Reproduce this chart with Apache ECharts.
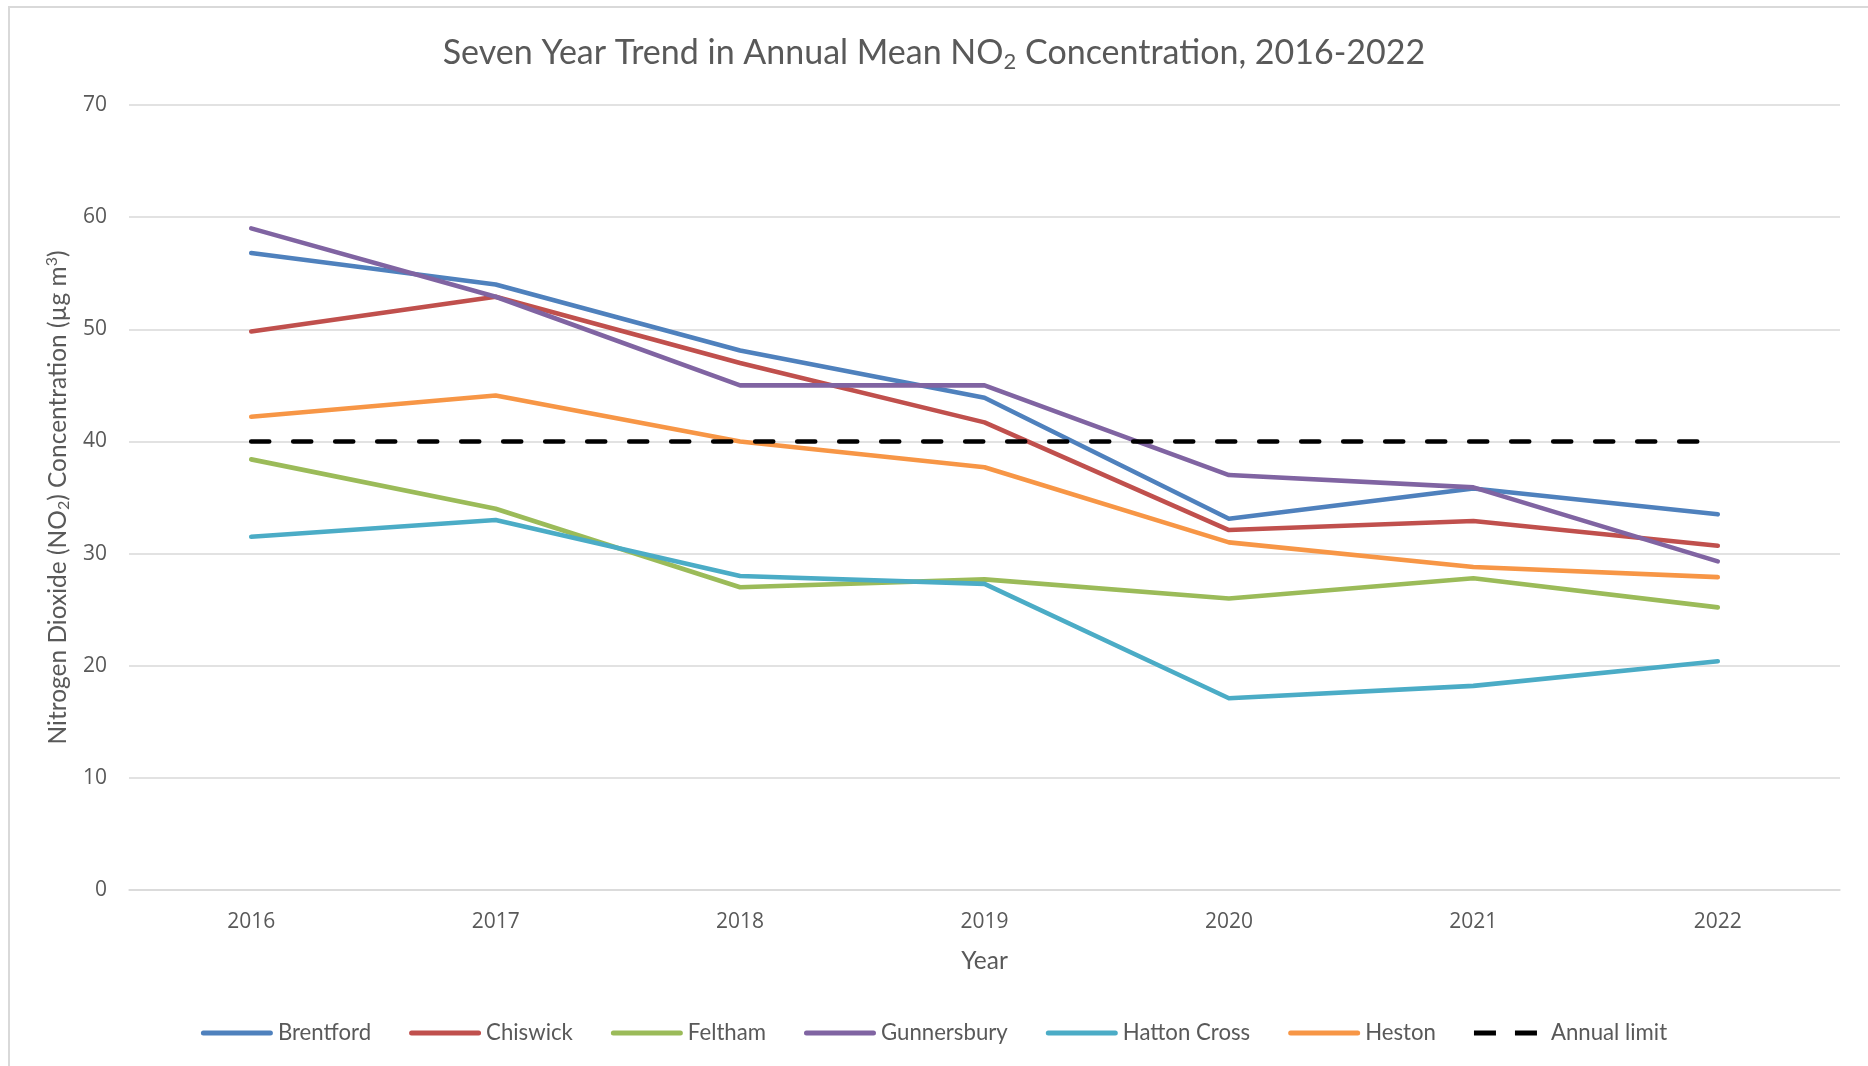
<!DOCTYPE html>
<html>
<head>
<meta charset="utf-8">
<script src="https://cdn.jsdelivr.net/npm/echarts@6/dist/echarts.min.js"></script>
<style>
html,body{margin:0;padding:0;background:#fff;}
#chart{width:1868px;height:1066px;}
</style>
</head>
<body>
<div id="chart"></div>
<script>
const years = ['2016','2017','2018','2019','2020','2021','2022'];
const brentford   = [56.8, 54.0, 48.1, 43.9, 33.1, 35.8, 33.5];
const chiswick    = [49.8, 52.9, 47.0, 41.7, 32.1, 32.9, 30.7];
const feltham     = [38.4, 34.0, 27.0, 27.7, 26.0, 27.8, 25.2];
const gunnersbury = [59.0, 52.9, 45.0, 45.0, 37.0, 35.9, 29.3];
const hattonCross = [31.5, 33.0, 28.0, 27.3, 17.1, 18.2, 20.4];
const heston      = [42.2, 44.1, 40.0, 37.7, 31.0, 28.8, 27.9];
const annualLimit = [40, 40, 40, 40, 40, 40, 40];
const yTicks = [0, 10, 20, 30, 40, 50, 60, 70];

const labelFont = 'Lato, "Liberation Sans", sans-serif';
const tickFont = '"Open Sans", "Noto Sans", sans-serif';
const grey = '#595959';

function lineSeries(name, data, color, dashed) {
  return {
    name: name, type: 'line', data: data, symbol: 'none', showSymbol: false, smooth: false,
    lineStyle: dashed
      ? { color: color, width: 4.6, type: [18, 24], cap: 'round' }
      : { color: color, width: 4.6, cap: 'round', join: 'round' },
    itemStyle: { color: color },
    emphasis: { disabled: true },
    z: 2
  };
}

const solidIcon = 'path://M2.5,0H69.5A2.5,2.5,0,0,1,69.5,5H2.5A2.5,2.5,0,0,1,2.5,0Z';
const dashIcon = 'path://M0,0H22V5H0Z M41,0H63V5H41Z M71.9,2.4H72V2.6H71.9Z';

const chart = echarts.init(document.getElementById('chart'), null, { renderer: 'canvas' });
chart.setOption({
  animation: false,
  backgroundColor: '#fff',
  graphic: [{
    type: 'rect', z: -10, silent: true,
    shape: { x: 9, y: 7, width: 1900, height: 1100 },
    style: { fill: 'none', stroke: '#d9d9d9', lineWidth: 2 }
  }],
  title: {
    text: 'Seven Year Trend in Annual Mean NO{sub|2} Concentration, 2016-2022',
    left: 'center', top: 28,
    textStyle: {
      fontFamily: labelFont, fontSize: 34, fontWeight: 'normal', color: grey, lineHeight: 40,
      rich: { sub: { fontFamily: labelFont, fontSize: 22, color: grey, lineHeight: 20, verticalAlign: 'bottom' } }
    }
  },
  grid: { left: 129, right: 28, top: 105, bottom: 176, containLabel: false },
  legend: {
    bottom: 17, left: 'center',
    itemWidth: 72, itemHeight: 5, itemGap: 38,
    textStyle: { fontFamily: labelFont, fontSize: 22.2, color: grey },
    data: [
      { name: 'Brentford', icon: solidIcon },
      { name: 'Chiswick', icon: solidIcon },
      { name: 'Feltham', icon: solidIcon },
      { name: 'Gunnersbury', icon: solidIcon },
      { name: 'Hatton Cross', icon: solidIcon },
      { name: 'Heston', icon: solidIcon },
      { name: 'Annual limit', icon: dashIcon }
    ]
  },
  xAxis: {
    type: 'category', data: years, boundaryGap: true,
    name: 'Year', nameLocation: 'middle', nameGap: 59,
    nameTextStyle: { fontFamily: labelFont, fontSize: 24.5, color: grey },
    axisLine: { show: true, lineStyle: { color: '#d9d9d9', width: 1.5 } },
    axisTick: { show: false },
    axisLabel: { fontFamily: tickFont, fontSize: 21, color: grey, margin: 22 },
    splitLine: { show: false }
  },
  yAxis: {
    type: 'value', min: yTicks[0], max: yTicks[yTicks.length - 1], interval: 10,
    name: 'Nitrogen Dioxide (NO{sub|2}) Concentration (µg m{sup|3})',
    nameLocation: 'middle', nameGap: 56, nameRotate: 90,
    nameTextStyle: {
      fontFamily: labelFont, fontSize: 24.5, color: grey, lineHeight: 28,
      rich: {
        sub: { fontFamily: labelFont, fontSize: 16, color: grey, lineHeight: 15, verticalAlign: 'bottom' },
        sup: { fontFamily: labelFont, fontSize: 16, color: grey, lineHeight: 15, verticalAlign: 'top' }
      }
    },
    axisLine: { show: false },
    axisTick: { show: false },
    axisLabel: { fontFamily: tickFont, fontSize: 21, color: grey, margin: 22 },
    splitLine: { show: true, lineStyle: { color: '#d9d9d9', width: 1.5 } }
  },
  series: [
    lineSeries('Brentford', brentford, '#4F81BD'),
    lineSeries('Chiswick', chiswick, '#C0504D'),
    lineSeries('Feltham', feltham, '#9BBB59'),
    lineSeries('Gunnersbury', gunnersbury, '#8064A2'),
    lineSeries('Hatton Cross', hattonCross, '#4BACC6'),
    lineSeries('Heston', heston, '#F79646'),
    lineSeries('Annual limit', annualLimit, '#000000', true)
  ]
});
</script>
</body>
</html>
